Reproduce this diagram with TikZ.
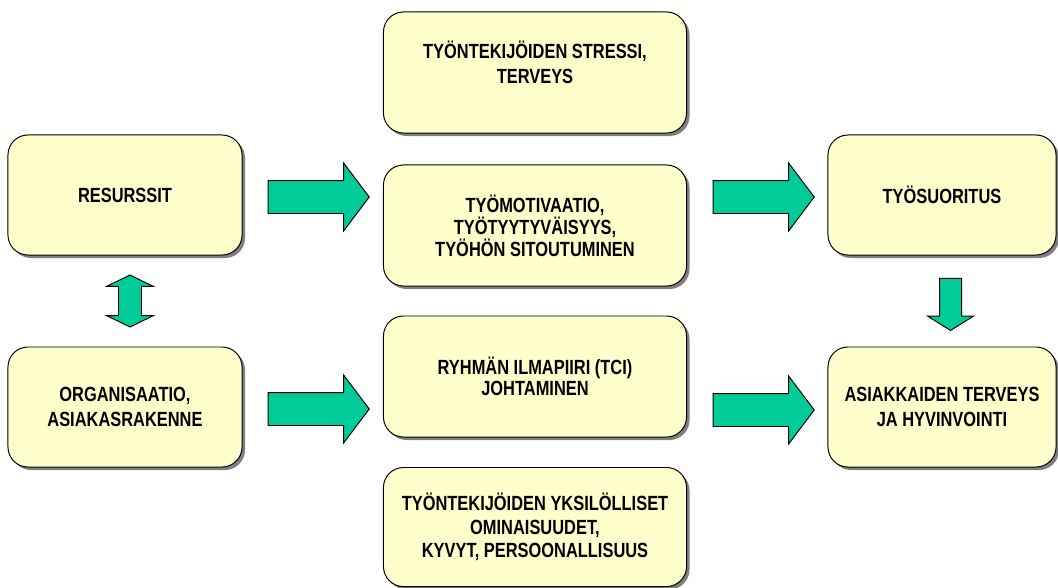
\documentclass[tikz,border=0pt]{standalone}
\usepackage{fontspec}
\setmainfont{Liberation Sans}[FakeStretch=0.8]
\usepackage{xcolor}
\usetikzlibrary{shapes.arrows,shadows}

\definecolor{boxyellow}{HTML}{FFFFCC}
\definecolor{arrowgreen}{HTML}{00CC99}

\begin{document}
\begin{tikzpicture}[
			x=0.025cm, y=-0.025cm,
			box/.style={draw=black, line width=0.7pt, rounded corners=0.5cm, fill=boxyellow,
					minimum width=5.85cm, minimum height=3cm, align=center, inner sep=2pt,
					font=\bfseries\fontsize{14.6}{14.6}\selectfont,
					drop shadow={shadow xshift=0.075cm, shadow yshift=-0.075cm, fill=black!50, opacity=1}},
			widebox/.style={box, minimum width=7.575cm, minimum height=3.025cm},
			rightbox/.style={box, minimum width=5.7cm},
			loose/.style={font=\bfseries\fontsize{14.6}{17.5}\selectfont},
			flow/.style={single arrow, draw=black, line width=0.7pt, fill=arrowgreen,
					inner xsep=0pt, inner ysep=0.4cm, minimum height=2.525cm,
					single arrow head extend=0.4375cm, single arrow tip angle=106},
			downflow/.style={flow, rotate=-90, inner ysep=0.2625cm, minimum height=1.3cm,
					single arrow head extend=0.3cm, single arrow tip angle=116},
			bothflow/.style={double arrow, draw=black, line width=0.7pt, fill=arrowgreen, rotate=90,
					inner xsep=0pt, inner ysep=0.275cm, minimum height=1.3cm,
					double arrow head extend=0.3cm, double arrow tip angle=128}
		]

		\useasboundingbox (0,0) rectangle (1058,587);

		% left column
		\node[box] (res) at (125,195) {RESURSSIT};
		\node[box, loose] (org) at (125,407) {ORGANISAATIO,\\ASIAKASRAKENNE};

		% middle column
		\node[widebox, loose] (stress) at (535,72.5) {TYÖNTEKIJÖIDEN STRESSI,\\TERVEYS\\[-3pt]\mbox{}};
		\node[widebox] (motiv) at (535,225.5) {TYÖMOTIVAATIO,\\TYÖTYYTYVÄISYYS,\\TYÖHÖN SITOUTUMINEN};
		\node[widebox] (ryhma) at (535,376.5) {RYHMÄN ILMAPIIRI (TCI)\\JOHTAMINEN};
		\node[widebox, minimum height=2.975cm, font=\bfseries\fontsize{14.6}{16.5}\selectfont] (yksil) at (535,527) {TYÖNTEKIJÖIDEN YKSILÖLLISET\\OMINAISUUDET,\\KYVYT, PERSOONALLISUUS};

		% right column
		\node[rightbox] (suor) at (942,195) {TYÖSUORITUS};
		\node[rightbox, loose] (asiak) at (942,407) {ASIAKKAIDEN TERVEYS\\JA HYVINVOINTI};

		% block arrows
		\node[flow] (a1) at (312.5,197) {};
		\node[flow] (a2) at (312.5,409) {};
		\node[flow] (a3) at (757.5,197) {};
		\node[flow] (a4) at (757.5,410) {};
		\node[downflow] (a5) at (950.5,301) {};
		\node[bothflow] (a6) at (130,301) {};

	\end{tikzpicture}
\end{document}
